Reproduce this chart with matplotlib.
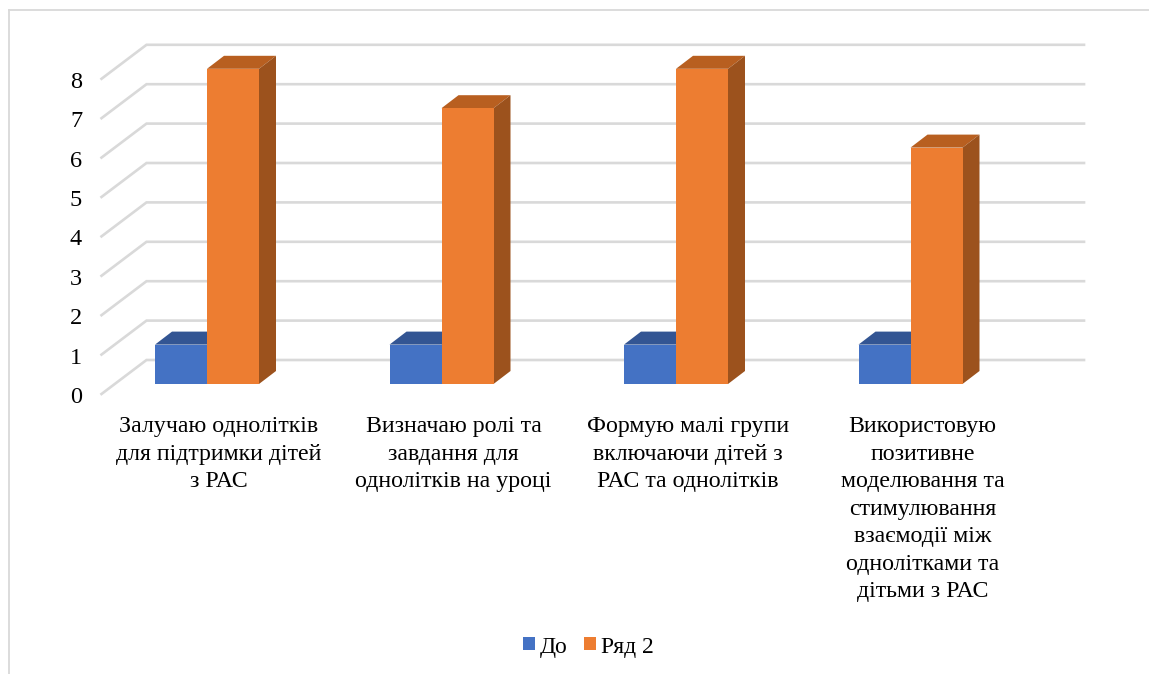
import matplotlib
matplotlib.use("Agg")
import matplotlib.pyplot as plt
from matplotlib.patches import Polygon, Rectangle
from matplotlib.lines import Line2D

plt.rcParams['font.family'] = ['Liberation Serif', 'DejaVu Serif']

categories = [
    "Залучаю однолітків\nдля підтримки дітей\nз РАС",
    "Визначаю ролі та\nзавдання для\nоднолітків на уроці",
    "Формую малі групи\nвключаючи дітей з\nРАС та однолітків",
    "Використовую\nпозитивне\nмоделювання та\nстимулювання\nвзаємодії між\nоднолітками та\nдітьми з РАС",
]
series_names = ["До", "Ряд 2"]
before = [1, 1, 1, 1]
after = [8, 7, 8, 6]
yticks = [0, 1, 2, 3, 4, 5, 6, 7, 8]

W, H = 1149, 674
PX_X, PX_Y = 234.5, 39.4      # pixels per category / per value
X0, Y0 = 207, 384             # pixel position of first category, value 0

fig = plt.figure(figsize=(W / 100, H / 100), dpi=100, facecolor="white")
ax = fig.add_axes([0, 0, 1, 1])
ax.set_xlim(-X0 / PX_X, (W - X0) / PX_X)
ax.set_ylim(-(H - Y0) / PX_Y, Y0 / PX_Y)
ax.axis("off")

px = lambda v: v / PX_X
py = lambda v: v / PX_Y

# outer frame
frame = dict(color="#d9d9d9", lw=1.3, transform=fig.transFigure, zorder=1)
fig.add_artist(Line2D([8.5 / W, 1], [1 - 9.5 / H] * 2, **frame))
fig.add_artist(Line2D([8.5 / W] * 2, [0, 1 - 9.5 / H], **frame))

# gridlines: front-left stub + back wall
xl_front, xl_back, xl_end = px(101.5 - X0), px(146.5 - X0), px(1084 - X0)
for t in yticks:
    ax.plot([xl_front, xl_back, xl_end], [t - py(10), t + py(24), t + py(24)],
            color="#d9d9d9", lw=1.9, solid_joinstyle="miter", zorder=1)
    ax.text(px(76 - X0), t - py(13.5), str(t), ha="center", va="center",
            fontsize=17.5, color="black")

# 3D bars
BW = 52 / PX_X
DX, DY = px(17), py(13)

def bar3d(x0, v, front, top, side, z):
    ax.bar(x0, v, width=BW, align="edge", color=front, zorder=z + 1, linewidth=0)
    x1 = x0 + BW
    ax.add_patch(Polygon([(x0, v), (x1, v), (x1 + DX, v + DY), (x0 + DX, v + DY)],
                         closed=True, fc=top, ec="none", zorder=z))
    ax.add_patch(Polygon([(x1, 0), (x1 + DX, DY), (x1 + DX, v + DY), (x1, v)],
                         closed=True, fc=side, ec="none", zorder=z))

for i, (a, b) in enumerate(zip(before, after)):
    bar3d(i - BW, a, "#4472c4", "#335593", "#2a4a85", 3)
    bar3d(i, b, "#ed7d31", "#b85f20", "#9c521d", 6)

# category labels
for i, lab in enumerate(categories):
    ax.text(i + px(12), py(-32), lab, ha="center", va="top", fontsize=17.2,
            linespacing=1.41, color="black")

# legend
for name, xs, col in zip(series_names, [523, 584], ["#4472c4", "#ed7d31"]):
    ax.add_patch(Rectangle((px(xs - X0), py(Y0 - 650)), px(12), py(13),
                           fc=col, ec="none"))
    ax.text(px(xs + 17 - X0), py(Y0 - 648), name, ha="left", va="center",
            fontsize=17, color="black")

fig.savefig("out.png", dpi=100, facecolor="white")
